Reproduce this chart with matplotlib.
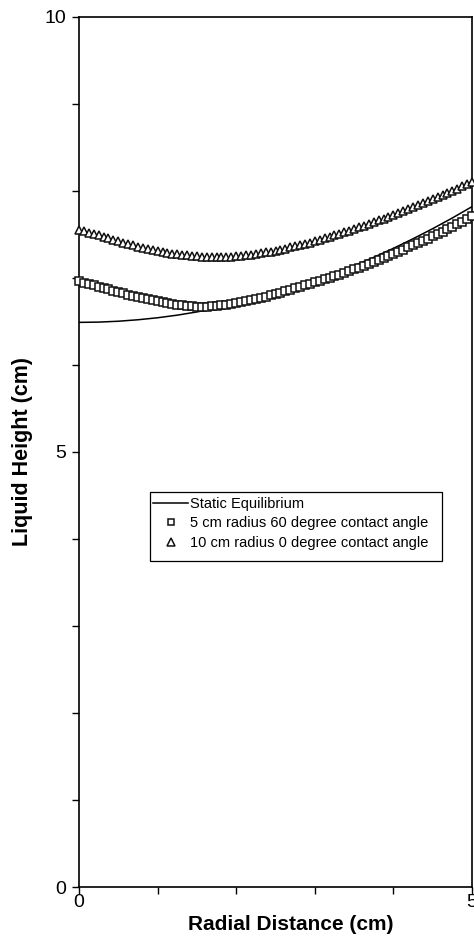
import numpy as np
import matplotlib
matplotlib.use("Agg")
import matplotlib.pyplot as plt
from matplotlib.patches import Rectangle
from matplotlib.ticker import MultipleLocator, FixedLocator

plt.rcParams['font.family'] = ['Liberation Sans', 'DejaVu Sans']

# Radial positions of the simulated free-surface samples (cm)
radial_cm = np.linspace(0.0, 5.0, 81)

# 5 cm radius, 60 degree contact angle
height_5cm_60deg = [
    6.960, 6.945, 6.930, 6.915, 6.900, 6.885, 6.870, 6.855,
    6.840, 6.825, 6.810, 6.795, 6.780, 6.767, 6.755, 6.742,
    6.730, 6.720, 6.710, 6.700, 6.692, 6.685, 6.679, 6.674,
    6.671, 6.670, 6.671, 6.674, 6.679, 6.685, 6.692, 6.700,
    6.710, 6.720, 6.732, 6.745, 6.758, 6.772, 6.787, 6.802,
    6.818, 6.833, 6.849, 6.865, 6.881, 6.898, 6.915, 6.932,
    6.950, 6.967, 6.985, 7.003, 7.021, 7.040, 7.060, 7.080,
    7.100, 7.120, 7.142, 7.164, 7.186, 7.208, 7.230, 7.254,
    7.278, 7.302, 7.326, 7.351, 7.376, 7.401, 7.427, 7.453,
    7.480, 7.507, 7.534, 7.562, 7.590, 7.619, 7.648, 7.678,
    7.708,
]

# 10 cm radius, 0 degree contact angle
height_10cm_0deg = [
    7.550, 7.535, 7.520, 7.505, 7.490, 7.472, 7.455, 7.437,
    7.420, 7.405, 7.390, 7.375, 7.360, 7.347, 7.334, 7.322,
    7.310, 7.300, 7.290, 7.280, 7.272, 7.265, 7.259, 7.254,
    7.250, 7.246, 7.243, 7.241, 7.240, 7.240, 7.242, 7.245,
    7.249, 7.254, 7.260, 7.267, 7.275, 7.284, 7.294, 7.304,
    7.315, 7.326, 7.338, 7.351, 7.364, 7.378, 7.393, 7.408,
    7.424, 7.440, 7.456, 7.473, 7.490, 7.508, 7.526, 7.544,
    7.563, 7.582, 7.601, 7.621, 7.641, 7.661, 7.682, 7.703,
    7.724, 7.746, 7.768, 7.790, 7.812, 7.835, 7.858, 7.881,
    7.905, 7.929, 7.953, 7.978, 8.003, 8.028, 8.053, 8.079,
    8.100,
]

# Static equilibrium meniscus
static_r = [0.00, 0.25, 0.50, 0.75, 1.00, 1.25, 1.50, 1.75, 2.00, 2.25, 2.50,
            2.75, 3.00, 3.25, 3.50, 3.75, 4.00, 4.25, 4.50, 4.75, 5.00]
static_h = [6.490, 6.493, 6.503, 6.520, 6.543, 6.573, 6.610, 6.653, 6.703,
            6.759, 6.822, 6.892, 6.969, 7.052, 7.142, 7.238, 7.341, 7.451,
            7.567, 7.690, 7.820]

x_tick_labels = ["0", "5"]
y_tick_labels = ["0", "5", "10"]

fig = plt.figure(figsize=(4.74, 9.36), dpi=100)
ax = fig.add_axes([79 / 474, 49 / 936, 393 / 474, 870 / 936])

ax.plot(static_r, static_h, color='black', lw=1.1, label='Static Equilibrium',
        zorder=2)
ax.plot(radial_cm, height_5cm_60deg, ls='none', marker='s', ms=5.6,
        mfc='white', mec='#111111', mew=1.1, clip_on=False, zorder=3,
        label='5 cm radius 60 degree contact angle')
ax.plot(radial_cm, height_10cm_0deg, ls='none', marker='^', ms=6.2,
        mfc='white', mec='#111111', mew=1.1, clip_on=False, zorder=3,
        label='10 cm radius 0 degree contact angle')

ax.set_xlim(0, 5)
ax.set_ylim(0, 10)

ax.xaxis.set_major_locator(FixedLocator([0, 5]))
ax.set_xticklabels(x_tick_labels)
ax.xaxis.set_minor_locator(MultipleLocator(1))
ax.yaxis.set_major_locator(FixedLocator([0, 5, 10]))
ax.set_yticklabels(y_tick_labels)
ax.yaxis.set_minor_locator(MultipleLocator(1))

ax.tick_params(which='both', direction='out', length=5, width=1.0,
               colors='black', labelsize=14)
ax.tick_params(axis='x', pad=0)
ax.tick_params(axis='y', pad=4)

for s in ax.spines.values():
    s.set_linewidth(1.2)
    s.set_color('black')

ax.set_xlabel('Radial Distance (cm)', fontsize=15, fontweight='bold')
ax.xaxis.set_label_coords(0.539, -0.032)
ax.set_ylabel('Liquid Height (cm)', fontsize=15.5, fontweight='bold')
ax.yaxis.set_label_coords(-0.117, 0.5)

leg = ax.legend(loc='upper left', bbox_to_anchor=(0.181, 0.452),
                borderaxespad=0, fontsize=10.5, frameon=False,
                handlelength=2.4, handletextpad=0.15, labelspacing=0.38,
                borderpad=0.2, markerscale=0.85)

# Legend frame, taller at the bottom than the entries need
ax.add_patch(Rectangle((0.181, 0.3747), 0.743, 0.0793, transform=ax.transAxes,
                       fill=False, edgecolor='black', lw=0.9, zorder=4))

fig.savefig('out.png', dpi=100)
